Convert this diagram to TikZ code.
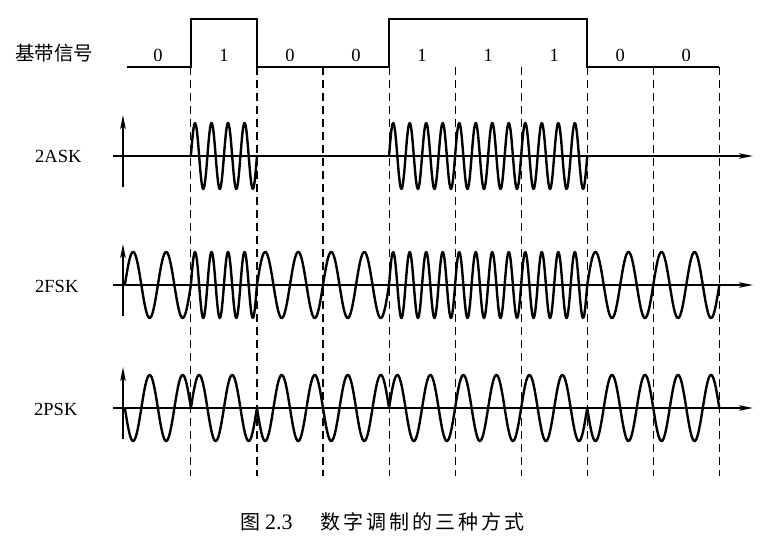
\documentclass[tikz,border=0pt]{standalone}
\usepackage{fontspec}
\setmainfont{Liberation Serif}
\newfontfamily\cjk{Noto Sans CJK SC}
\newfontfamily\cjkcap[LetterSpace=15]{Noto Sans CJK SC}
\usetikzlibrary{arrows.meta}
\begin{document}
\begin{tikzpicture}[x=1pt,y=-1pt,
  wave/.style={line width=2.4pt, line join=round, line cap=round},
  axisline/.style={line width=1.3pt, -{Stealth[length=14pt,width=5.5pt,inset=3pt]}},
  guide/.style={line width=1.1pt, dash pattern=on 8pt off 5pt},
  sig/.style={line width=1.9pt, line join=miter},
  lbl/.style={font=\fontsize{18.5}{20}\selectfont, inner sep=0pt},
]
\useasboundingbox (0,0) rectangle (773,548);
\def\xs{124.85}
\def\w{66.05}
% bit boundaries
\foreach \i in {0,...,9} \coordinate (b\i) at ({\xs+\i*\w},67);
% dashed guides
\foreach \i in {1,...,9} \draw[guide] (b\i) -- ++(0,409);
% baseband signal
\coordinate (bbstart) at (127,67);
\draw[sig] (bbstart) -- (b1) -- ++(0,-48) -| (b2) -- (b4) -- ++(0,-48) -| (b7) -- (b9);
% bit labels
\foreach \b [count=\k from 0] in {0,1,0,0,1,1,1,0,0}
  \node[lbl] (bit\k) at ({\xs+(\k+0.5)*\w},55) {\b};
% row labels
\node[font=\cjk\fontsize{19.5}{21}\selectfont, anchor=west, inner sep=0pt] (bb) at (15,53) {基带信号};
\node[lbl, anchor=west] (ask) at (35,156) {2ASK};
\node[lbl, anchor=west] (fsk) at (35,286) {2FSK};
\node[lbl, anchor=west] (psk) at (34,409) {2PSK};
% axes
\foreach \y/\n in {156/a,285/f,408/p}{
  \coordinate (\n h0) at (113,\y);
  \coordinate (\n h1) at (753,\y);
  \coordinate (\n v0) at (123,\y+31);
  \coordinate (\n v1) at (123,\y-41);
  \draw[axisline] (\n h0) -- (\n h1);
  \draw[axisline] (\n v0) -- (\n v1);
}
% 2ASK
\draw[wave] plot[domain=0:\w, samples=120] ({\xs+\w+\x},{156-33*sin(1440*(\x/\w))});
\draw[wave] plot[domain=0:3*\w, samples=360] ({\xs+4*\w+\x},{156-33*sin(1440*(\x/\w))});
% 2FSK
\draw[wave] (\xs,285) \foreach \b [count=\k from 0] in {0,1,0,0,1,1,1,0,0}
  { -- plot[domain=0:\w, samples=120] ({\xs+\k*\w+\x},{285-33*sin((2+2*\b)*360*(\x/\w))}) };
% 2PSK
\draw[wave] (\xs,408) \foreach \b [count=\k from 0] in {0,1,0,0,1,1,1,0,0}
  { -- plot[domain=0:\w, samples=120] ({\xs+\k*\w+\x},{408-33*(2*\b-1)*sin(720*(\x/\w))}) };
% caption
\node[anchor=base west, inner sep=0pt, font=\cjk\fontsize{20}{22}\selectfont] (cap1) at (240,529) {图};
\node[anchor=base west, inner sep=0pt, font=\fontsize{22}{24}\selectfont] (cap2) at (265,529) {2.3};
\node[anchor=base west, inner sep=0pt, font=\cjkcap\fontsize{20}{22}\selectfont] (cap3) at (320,529) {数字调制的三种方式};
\end{tikzpicture}
\end{document}
